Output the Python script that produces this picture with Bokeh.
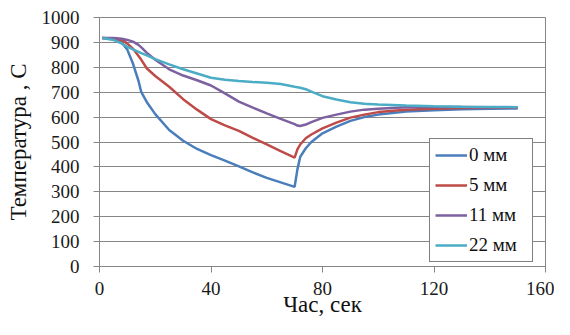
from bokeh.plotting import figure
from bokeh.models import Range1d, FixedTicker, Legend, LegendItem
from bokeh.embed import file_html
from bokeh.resources import INLINE

time_s = [1, 5, 8, 10, 12, 14, 15, 17, 20, 25, 30, 35, 40, 45, 50, 55, 60, 65, 70,
          71, 72, 74, 76, 80, 85, 90, 95, 100, 110, 120, 130, 140, 150]
t_0mm = [918, 915, 900, 870, 815, 745, 700, 660, 612, 548, 505, 472, 447, 425, 402, 378, 356, 338, 320,
         390, 440, 475, 500, 535, 562, 585, 600, 610, 622, 628, 632, 634, 635]
t_5mm = [918, 915, 910, 895, 875, 845, 830, 795, 765, 722, 672, 630, 592, 567, 545, 517, 490, 463, 437,
         470, 490, 515, 530, 555, 578, 598, 610, 620, 630, 634, 637, 638, 638]
t_11mm = [918, 918, 915, 910, 903, 890, 880, 858, 830, 792, 767, 748, 727, 695, 662, 638, 615, 593, 572,
          566, 564, 570, 580, 597, 610, 622, 630, 634, 640, 641, 641, 640, 640]
t_22mm = [918, 910, 895, 882, 872, 862, 857, 848, 833, 812, 792, 775, 758, 750, 745, 741, 738, 733, 722,
          720, 718, 712, 702, 684, 671, 660, 654, 651, 647, 644, 642, 641, 640]

series = [("0 мм", t_0mm, "#4A7EBB"), ("5 мм", t_5mm, "#BE4B48"),
          ("11 мм", t_11mm, "#7D60A0"), ("22 мм", t_22mm, "#4BACC6")]
x_ticks = [0, 40, 80, 120, 160]
y_ticks = list(range(0, 1001, 100))

FONT = "Liberation Serif"
GRAY = "#868686"

p = figure(width=554, height=319, output_backend="svg", toolbar_location=None,
           x_range=Range1d(0, 160), y_range=Range1d(0, 1000),
           min_border_left=99, min_border_right=9, min_border_top=17, min_border_bottom=52)
p.background_fill_color = "white"
p.border_fill_color = "white"
p.outline_line_color = GRAY
p.outline_line_width = 1

p.xgrid.visible = False
p.ygrid.grid_line_color = GRAY
p.ygrid.grid_line_width = 1
p.ygrid.ticker = FixedTicker(ticks=y_ticks)

p.xaxis.ticker = FixedTicker(ticks=x_ticks)
p.yaxis.ticker = FixedTicker(ticks=y_ticks)
for ax in (p.xaxis[0], p.yaxis[0]):
    ax.axis_line_color = GRAY
    ax.major_tick_line_color = GRAY
    ax.minor_tick_line_color = None
    ax.major_tick_in = 0
    ax.major_tick_out = 6
    ax.major_label_text_font = FONT
    ax.major_label_text_font_size = "19px"
    ax.major_label_text_color = "#1a1a1a"
    ax.axis_label_text_font = FONT
    ax.axis_label_text_font_style = "normal"
    ax.axis_label_text_color = "#111111"

p.xaxis.major_label_standoff = 9
p.yaxis.major_label_standoff = 14
p.xaxis.axis_label = "Час, сек"
p.xaxis.axis_label_text_font_size = "23px"
p.xaxis.axis_label_standoff = -6
p.yaxis.axis_label = "Температура , С"
p.yaxis.axis_label_text_font_size = "23px"
p.yaxis.axis_label_standoff = 8

items = []
for name, vals, color in series:
    r = p.line(time_s, vals, line_color=color, line_width=2.5)
    items.append(LegendItem(label=name, renderers=[r]))

legend = Legend(items=items, location=(330, 4))
legend.label_text_font = FONT
legend.label_text_font_size = "19px"
legend.label_text_color = "#111111"
legend.glyph_width = 32
legend.glyph_height = 20
legend.label_height = 20
legend.label_width = 58
legend.label_standoff = 2
legend.spacing = 8
legend.padding = 5
legend.margin = 0
legend.border_line_color = "black"
legend.border_line_width = 1
legend.background_fill_color = "white"
legend.background_fill_alpha = 1
p.add_layout(legend, "center")

open("out.html", "w").write(file_html(p, INLINE))
